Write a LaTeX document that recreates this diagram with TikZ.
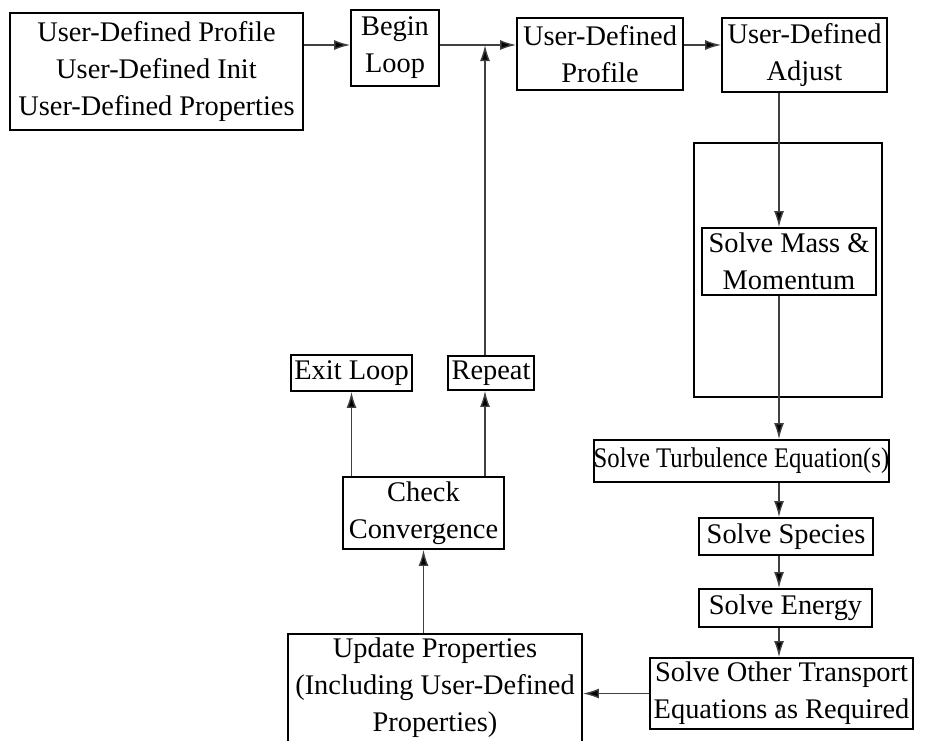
\documentclass[tikz,border=0pt]{standalone}
\usepackage{fontspec}
\setmainfont{Liberation Serif}
\newfontfamily\narrowserif[FakeStretch=0.87]{Liberation Serif}
\usetikzlibrary{arrows.meta}

\begin{document}
\begin{tikzpicture}[x=0.5pt, y=-0.5pt,
    box/.style={draw, line width=0.9pt, inner sep=0pt, align=center,
        font=\fontsize{14.2}{18.5}\selectfont},
    flow/.style={draw=black!75, line width=0.7pt,
        -{Latex[length=8pt, width=5pt, fill=black]}}]
    \clip (0,0) rectangle (946,740);

    % top row
    \node[box, minimum width=146.5pt, minimum height=58.5pt] (init) at (156.5,71.5)
        {User-Defined Profile\\User-Defined Init\\User-Defined Properties};
    \node[box, minimum width=44pt, minimum height=38pt] (begin) at (395,48) {Begin\\Loop};
    \node[box, minimum width=83pt, minimum height=36pt] (udprof) at (600,54) {User-Defined\\Profile};
    \node[box, minimum width=82.5pt, minimum height=37pt] (udadj) at (804.5,55) {User-Defined\\Adjust};

    % solver chain
    \draw[line width=0.9pt] (694,143) rectangle (882,397);
    \node[box, minimum width=87pt, minimum height=33.5pt] (mass) at (789,261.5) {Solve Mass \&\\Momentum};
    \node[box, minimum width=146.5pt, minimum height=21pt] (turb) at (741.5,461)
        {\narrowserif Solve Turbulence Equation(s)};
    \node[box, minimum width=87pt, minimum height=18.5pt] (species) at (786,536.5) {Solve Species};
    \node[box, minimum width=86.5pt, minimum height=19pt] (energy) at (785.5,608) {Solve Energy};
    \node[box, minimum width=131.5pt, minimum height=35.5pt] (transport) at (781.5,693.5)
        {Solve Other Transport\\Equations as Required};

    % convergence
    \node[box, minimum width=147pt, minimum height=54pt] (update) at (435,688)
        {Update Properties\\(Including User-Defined\\Properties)};
    \node[box, minimum width=80.5pt, minimum height=36pt] (check) at (423.5,513) {Check\\Convergence};
    \node[box, minimum width=60.5pt, minimum height=18pt] (exit) at (351.5,373) {Exit Loop};
    \node[box, minimum width=43pt, minimum height=17pt] (repeat) at (491,373) {Repeat};

    \coordinate (join) at (485,45);
    \coordinate (col) at (779,0);

    % connectors
    \draw[flow] (init.east |- join) -- (begin.west |- join);
    \draw[flow] (begin.east |- join) -- (udprof.west |- join);
    \draw[flow] (udprof.east |- join) -- (udadj.west |- join);
    \draw[flow] (udadj.south -| col) -- (mass.north -| col);
    \draw[flow] (mass.south -| col) -- (turb.north -| col);
    \draw[flow] (turb.south -| col) -- (species.north -| col);
    \draw[flow] (species.south -| col) -- (energy.north -| col);
    \draw[flow] (energy.south -| col) -- (transport.north -| col);
    \draw[flow] (transport.west) -- (update.east |- transport.west);
    \draw[flow] (update.north -| check.south) -- (check.south);
    \draw[flow] (check.north -| exit.south) -- (exit.south);
    \draw[flow] (check.north -| join) -- (repeat.south -| join);
    \draw[flow] (repeat.north -| join) -- (join);
\end{tikzpicture}
\end{document}
